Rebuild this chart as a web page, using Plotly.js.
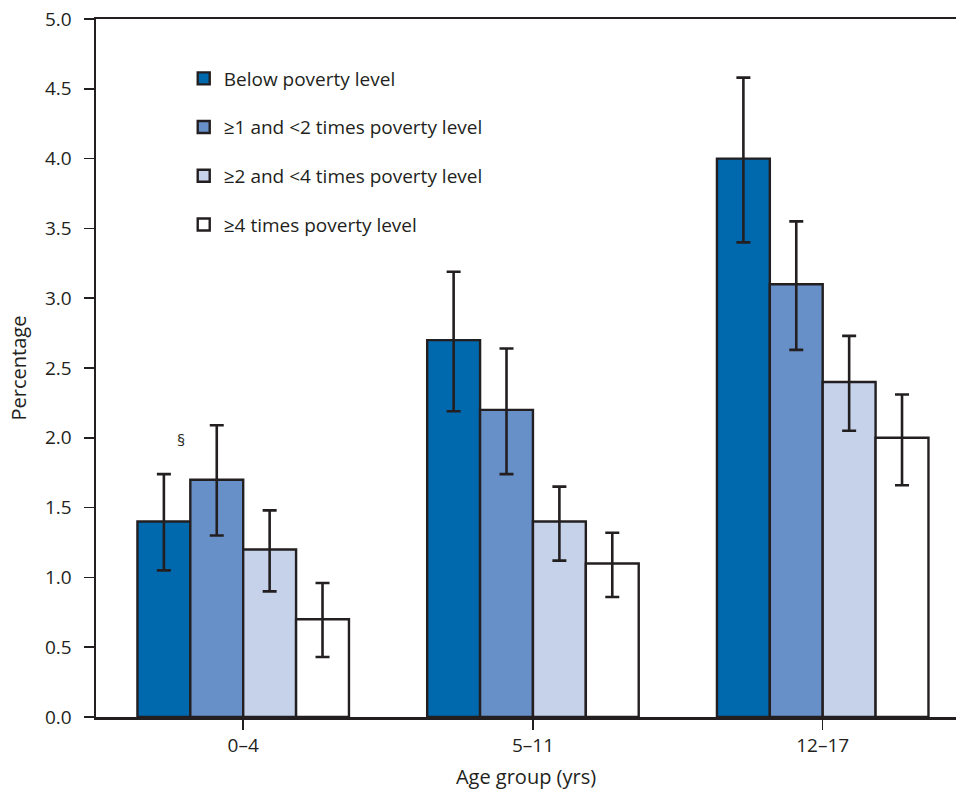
<!DOCTYPE html>
<html>
<head>
<meta charset="utf-8">
<script src="https://cdn.plot.ly/plotly-3.0.1.min.js"></script>
<style>html,body{margin:0;padding:0;background:#fff;}#chart{width:956px;height:790px;}</style>
</head>
<body>
<div id="chart"></div>
<script>
const ageGroups = ["0–4", "5–11", "12–17"];
const seriesNames = ["Below poverty level", "≥1 and <2 times poverty level", "≥2 and <4 times poverty level", "≥4 times poverty level"];
const below = [1.4, 2.7, 4.0];
const below_hi = [1.74, 3.19, 4.58];
const below_lo = [1.05, 2.19, 3.40];
const oneTwo = [1.7, 2.2, 3.1];
const oneTwo_hi = [2.09, 2.64, 3.55];
const oneTwo_lo = [1.30, 1.74, 2.63];
const twoFour = [1.2, 1.4, 2.4];
const twoFour_hi = [1.48, 1.65, 2.73];
const twoFour_lo = [0.90, 1.12, 2.05];
const fourPlus = [0.7, 1.1, 2.0];
const fourPlus_hi = [0.96, 1.32, 2.31];
const fourPlus_lo = [0.43, 0.86, 1.66];
const colors = ["#0068ad", "#6890c8", "#c6d1ea", "#ffffff"];

const values = [below, oneTwo, twoFour, fourPlus];
const his = [below_hi, oneTwo_hi, twoFour_hi, fourPlus_hi];
const los = [below_lo, oneTwo_lo, twoFour_lo, fourPlus_lo];

const dark = "#231f20";
const traces = values.map((v, i) => ({
  type: "bar",
  name: seriesNames[i],
  x: ageGroups,
  y: v,
  legendgroup: "g" + i,
  marker: {color: colors[i], line: {color: dark, width: 2.4}},
  error_y: {
    type: "data", symmetric: false,
    array: v.map((d, j) => +(his[i][j] - d).toFixed(3)),
    arrayminus: v.map((d, j) => +(d - los[i][j]).toFixed(3)),
    color: dark, thickness: 2.6, width: 7
  }
}));

const layout = {
  width: 956, height: 790,
  margin: {l: 96, r: 0, t: 19, b: 73},
  paper_bgcolor: "#fff", plot_bgcolor: "#fff",
  font: {family: "Open Sans, sans-serif", color: dark, size: 19},
  barmode: "group",
  bargap: 0.27, bargroupgap: 0,
  showlegend: true,
  legend: {x: 0.102, y: 0.942, xanchor: "left", yanchor: "top",
    traceorder: "grouped", tracegroupgap: 21, bgcolor: "rgba(0,0,0,0)",
    font: {size: 19, family: "Open Sans, sans-serif", color: dark}, itemwidth: 30},
  xaxis: {
    type: "category", range: [-0.508, 2.46],
    showline: true, linecolor: dark, linewidth: 2.5, mirror: true,
    ticks: "outside", ticklen: 10, tickwidth: 1.5, tickcolor: dark,
    showgrid: false, zeroline: false,
    tickfont: {size: 19},
    title: {text: "Age group (yrs)", font: {size: 20}, standoff: 19}
  },
  yaxis: {
    range: [0, 5], dtick: 0.5, tickformat: ".1f",
    showline: true, linecolor: dark, linewidth: 2.5,
    ticks: "outside", ticklen: 10, tickwidth: 1.5, tickcolor: dark,
    ticklabelstandoff: 8,
    showgrid: false, zeroline: false,
    tickfont: {size: 19},
    title: {text: "Percentage", font: {size: 20}, standoff: 13}
  },
  annotations: [{
    x: ageGroups[0], y: below_hi[0], xref: "x", yref: "y",
    text: "§", showarrow: false, xshift: -68, yshift: 21,
    xanchor: "left", yanchor: "bottom", font: {size: 16, color: dark}
  }]
};

Plotly.newPlot("chart", traces, layout, {displayModeBar: false, staticPlot: true});
</script>
</body>
</html>
